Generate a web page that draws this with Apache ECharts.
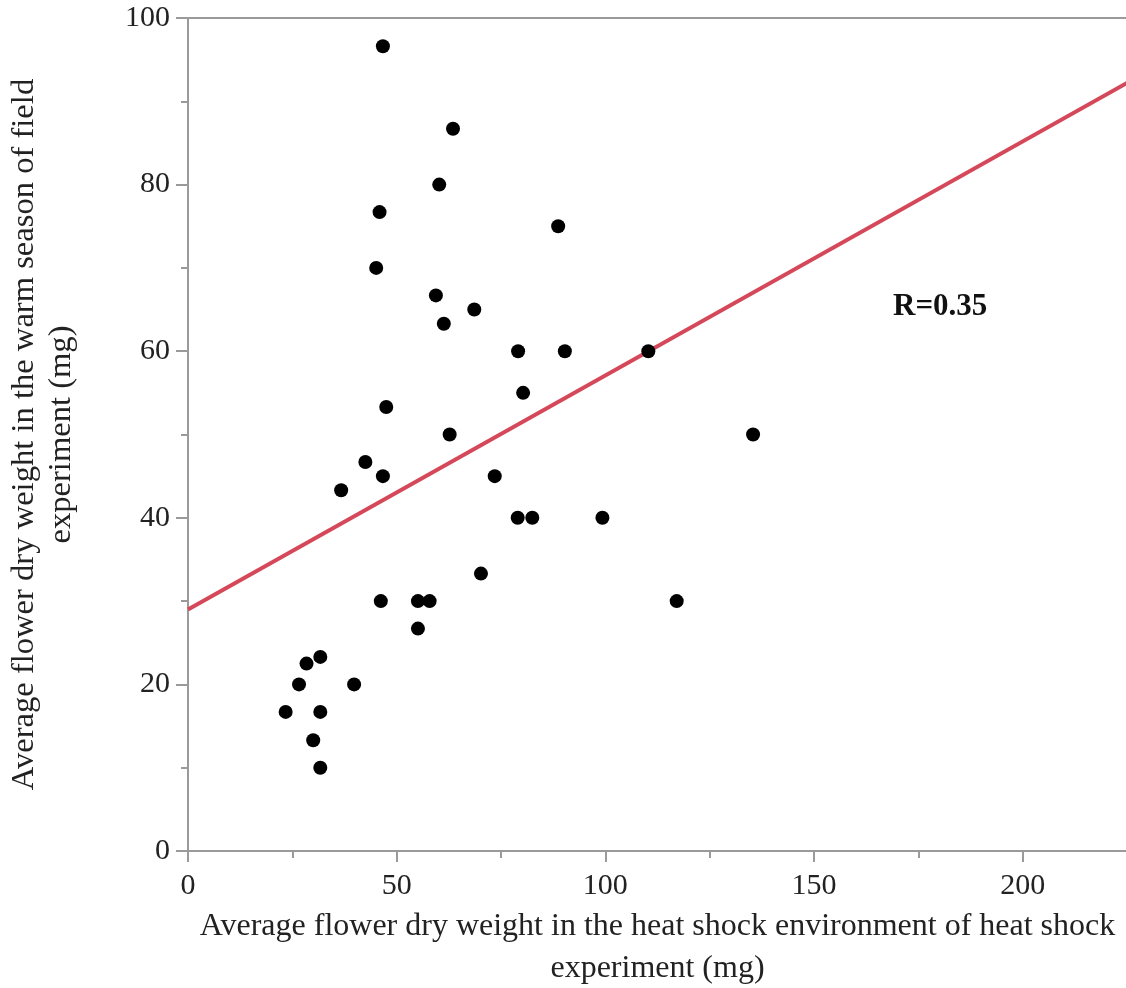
<!DOCTYPE html>
<html>
<head>
<meta charset="utf-8">
<script src="https://cdn.jsdelivr.net/npm/echarts@6/dist/echarts.min.js"></script>
<style>
html,body{margin:0;padding:0;background:#fff;}
#chart{width:1126px;height:988px;}
</style>
</head>
<body>
<div id="chart"></div>
<script>
// Data
const heatShockWeight = [46.7, 63.5, 60.2, 45.9, 88.7, 45.1, 59.4, 68.6, 61.3, 79.1, 90.3, 110.3, 80.3, 47.5, 62.7, 135.4, 42.5, 46.7, 73.5, 36.7, 79.0, 82.5, 99.3, 70.2, 46.2, 55.1, 57.9, 117.1, 55.1, 31.7, 28.4, 26.6, 39.8, 23.4, 31.7, 30.0, 31.7];
const warmSeasonWeight = [96.6, 86.7, 80.0, 76.7, 75.0, 70.0, 66.7, 65.0, 63.3, 60.0, 60.0, 60.0, 55.0, 53.3, 50.0, 50.0, 46.7, 45.0, 45.0, 43.3, 40.0, 40.0, 40.0, 33.3, 30.0, 30.0, 30.0, 30.0, 26.7, 23.3, 22.5, 20.0, 20.0, 16.7, 16.7, 13.3, 10.0];
const fitLineX = [0, 225];
const fitLineY = [29.0, 92.2];
const xTicks = [0, 50, 100, 150, 200];
const yTicks = [0, 20, 40, 60, 80, 100];
const rLabel = 'R=0.35';
const xTitle = 'Average flower dry weight in the heat shock environment of heat shock\nexperiment (mg)';
const yTitle = 'Average flower dry weight in the warm season of field\nexperiment (mg)';

const points = heatShockWeight.map((x, i) => [x, warmSeasonWeight[i]]);
const fitLine = fitLineX.map((x, i) => [x, fitLineY[i]]);

const FONT = "'Liberation Serif', 'Times New Roman', serif";
const AXIS_COLOR = '#9a9a9a';
const TEXT_COLOR = '#222';

const chart = echarts.init(document.getElementById('chart'), null, {renderer: 'canvas'});
chart.setOption({
  animation: false,
  backgroundColor: '#fff',
  grid: {
    left: 188, top: 18, width: 939, height: 833,
    show: false, containLabel: false, outerBoundsMode: 'none'
  },
  xAxis: [
    {
      type: 'value', min: 0, max: 225, interval: 50, position: 'bottom',
      name: xTitle, nameLocation: 'middle', nameGap: 52,
      nameTextStyle: {fontFamily: FONT, fontSize: 32, color: TEXT_COLOR, lineHeight: 42},
      axisLine: {show: true, onZero: false, lineStyle: {color: AXIS_COLOR, width: 2}},
      axisTick: {show: true, length: 11, lineStyle: {color: AXIS_COLOR, width: 2}},
      minorTick: {show: true, splitNumber: 2, length: 7, lineStyle: {color: AXIS_COLOR, width: 2}},
      splitLine: {show: false},
      minorSplitLine: {show: false},
      axisLabel: {
        show: true, margin: 20, fontFamily: FONT, fontSize: 30, color: TEXT_COLOR,
        showMaxLabel: false, showMinLabel: true, hideOverlap: false,
        formatter: v => (xTicks.indexOf(v) >= 0 ? String(v) : '')
      }
    },
    {
      type: 'value', min: 0, max: 225, position: 'top',
      axisLine: {show: true, onZero: false, lineStyle: {color: AXIS_COLOR, width: 2}},
      axisTick: {show: false}, axisLabel: {show: false}, splitLine: {show: false}
    }
  ],
  yAxis: {
    type: 'value', min: 0, max: 100, interval: 20,
    name: yTitle, nameLocation: 'middle', nameGap: 108, nameRotate: 90,
    nameTextStyle: {fontFamily: FONT, fontSize: 32.6, color: TEXT_COLOR, lineHeight: 37},
    axisLine: {show: true, onZero: false, lineStyle: {color: AXIS_COLOR, width: 2}},
    axisTick: {show: true, length: 12, lineStyle: {color: AXIS_COLOR, width: 2}},
    minorTick: {show: true, splitNumber: 2, length: 7, lineStyle: {color: AXIS_COLOR, width: 2}},
    splitLine: {show: false},
    minorSplitLine: {show: false},
    axisLabel: {
      show: true, margin: 18, fontFamily: FONT, fontSize: 30, color: TEXT_COLOR,
      showMaxLabel: true, showMinLabel: true, hideOverlap: false,
      formatter: v => (yTicks.indexOf(v) >= 0 ? String(v) : '')
    }
  },
  series: [
    {
      type: 'line',
      data: fitLine,
      symbol: 'none',
      lineStyle: {color: '#d5485a', width: 4},
      z: 2,
      silent: true
    },
    {
      type: 'scatter',
      data: points,
      symbol: 'circle',
      symbolSize: 14,
      itemStyle: {color: '#000', opacity: 1},
      z: 3
    }
  ],
  graphic: [
    {
      type: 'text',
      left: 893, top: 291,
      style: {text: rLabel, font: "bold 31px 'Liberation Serif', 'Times New Roman', serif", fill: '#111'}
    }
  ]
});
</script>
</body>
</html>
